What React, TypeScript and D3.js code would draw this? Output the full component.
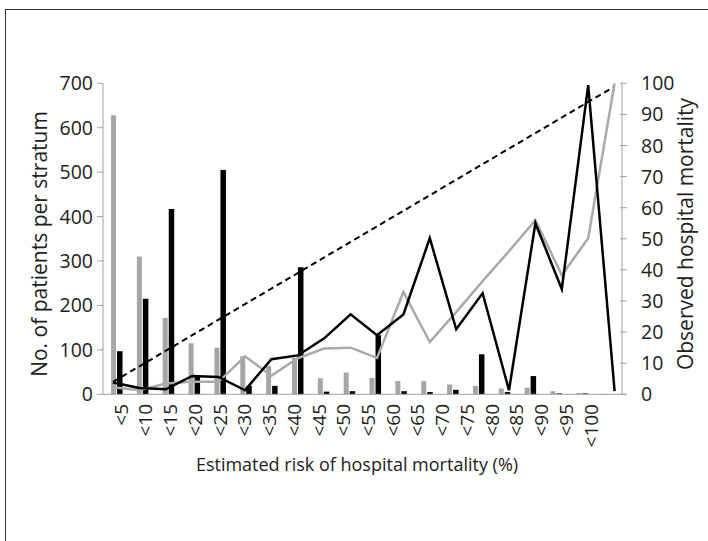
import React from 'react';
import {scaleLinear, scaleBand, scalePoint, line} from 'd3';

const categories = ['<5', '<10', '<15', '<20', '<25', '<30', '<35', '<40', '<45', '<50',
  '<55', '<60', '<65', '<70', '<75', '<80', '<85', '<90', '<95', '<100'];

// patients per stratum (left axis)
const grayCount = [628, 310, 172, 115, 105, 86, 64, 82, 36, 49, 37, 30, 30, 22, 19, 13, 15, 7, 3, 1];
const blackCount = [97, 215, 417, 43, 505, 19, 19, 286, 6, 7, 133, 7, 5, 10, 90, 5, 41, 2, 2, 0];

// observed hospital mortality (right axis)
const grayObserved = [2.3, 1.3, 3.5, 4, 4, 12.2, 6, 11.6, 14.7, 15, 11.7, 32.9, 16.8, 26.4, 36.4, 46, 56, 38.3, 50.2, 100];
const blackObserved = [3.8, 2, 1.6, 5.9, 5.6, 1.3, 11.3, 12.5, 18, 25.7, 19, 25.7, 50.2, 20.9, 32.5, 1.3, 55, 33.8, 99.4, 1];
const expected = [4, 9, 14, 19, 24, 29, 34, 39, 44, 49, 54, 59, 64, 69, 74, 79, 84, 89, 94, 99];

const leftTicks = [0, 100, 200, 300, 400, 500, 600, 700];
const rightTicks = [0, 10, 20, 30, 40, 50, 60, 70, 80, 90, 100];

const font = '"Open Sans", "Noto Sans", sans-serif';

const App = () => {
    const x0 = 103, x1 = 622, yBase = 394.3, yTop = 83.3;

    const yLeft = scaleLinear().domain([0, 700]).range([yBase, yTop]);
    const yRight = scaleLinear().domain([0, 100]).range([yBase, yTop]);

    // bars and lines sit on slightly different category spacing in the original
    const xBars = scaleBand().domain(categories).range([103.6, 620.6]);
    const xLines = scaleBand().domain(categories).range([99.8, 627.8]);
    const xLabels = scalePoint().domain(categories).range([121, 591]);

    const barCenter = (c) => xBars(c) + xBars.bandwidth() / 2;
    const lineX = (i) => xLines(categories[i]) + xLines.bandwidth() / 2;

    const mkLine = line().x((d, i) => lineX(i)).y(d => yRight(d));

    return (
        <svg width={708} height={541} style={{position: 'absolute', left: 0, top: 0}} fontFamily={font}>
            <rect x={0} y={0} width={708} height={541} fill="#fff"/>
            <rect x={5.5} y={9.5} width={740} height={600} fill="none" stroke="#333" strokeWidth={1}/>

            {/* bars */}
            {categories.map((c, i) => (
                <g key={c}>
                    <rect x={barCenter(c) - 5.5} width={5} y={yLeft(grayCount[i])}
                          height={yBase - yLeft(grayCount[i])} fill="#a6a6a6"/>
                    <rect x={barCenter(c) + 0.5} width={5.5} y={yLeft(blackCount[i])}
                          height={yBase - yLeft(blackCount[i])} fill="#000"/>
                </g>
            ))}

            {/* axes */}
            <line x1={x0} x2={x0} y1={yTop} y2={yBase} stroke="#a0a0a0"/>
            <line x1={x1} x2={x1} y1={yTop} y2={yBase} stroke="#a0a0a0"/>
            <line x1={x0} x2={x1 + 5} y1={yBase} y2={yBase} stroke="#a0a0a0"/>
            {leftTicks.map(t => (
                <g key={t}>
                    <line x1={x0 - 6} x2={x0} y1={yLeft(t)} y2={yLeft(t)} stroke="#a0a0a0"/>
                    <text x={x0 - 10} y={yLeft(t)} dy="0.36em" textAnchor="end" fontSize={19.5} fill="#222">{t}</text>
                </g>
            ))}
            {rightTicks.map(t => (
                <g key={t}>
                    <line x1={x1 - 2} x2={x1 + 5} y1={yRight(t)} y2={yRight(t)} stroke="#a0a0a0"/>
                    <text x={x1 + 19} y={yRight(t)} dy="0.36em" textAnchor="start" fontSize={19.5} fill="#222">{t}</text>
                </g>
            ))}
            {categories.map(c => (
                <text key={c} transform={`translate(${xLabels(c)},404) rotate(-90)`} dy="0.35em"
                      textAnchor="end" fontSize={19} fill="#222">{c}</text>
            ))}

            {/* lines */}
            <path d={mkLine(expected)} fill="none" stroke="#000" strokeWidth={2} strokeDasharray="6,4"/>
            <path d={mkLine(grayObserved)} fill="none" stroke="#aaa" strokeWidth={2.5}/>
            <path d={mkLine(blackObserved)} fill="none" stroke="#000" strokeWidth={2.5}/>

            {/* titles */}
            <text transform="translate(40,244) rotate(-90)" dy="0.35em" textAnchor="middle" fontSize={21} fill="#222">
                No. of patients per stratum
            </text>
            <text transform="translate(686,234) rotate(-90)" dy="0.35em" textAnchor="middle" fontSize={21} fill="#222">
                Observed hospital mortality
            </text>
            <text x={357} y={471} textAnchor="middle" fontSize={18} fill="#222">
                Estimated risk of hospital mortality (%)
            </text>
        </svg>
    );
};

export default App;
